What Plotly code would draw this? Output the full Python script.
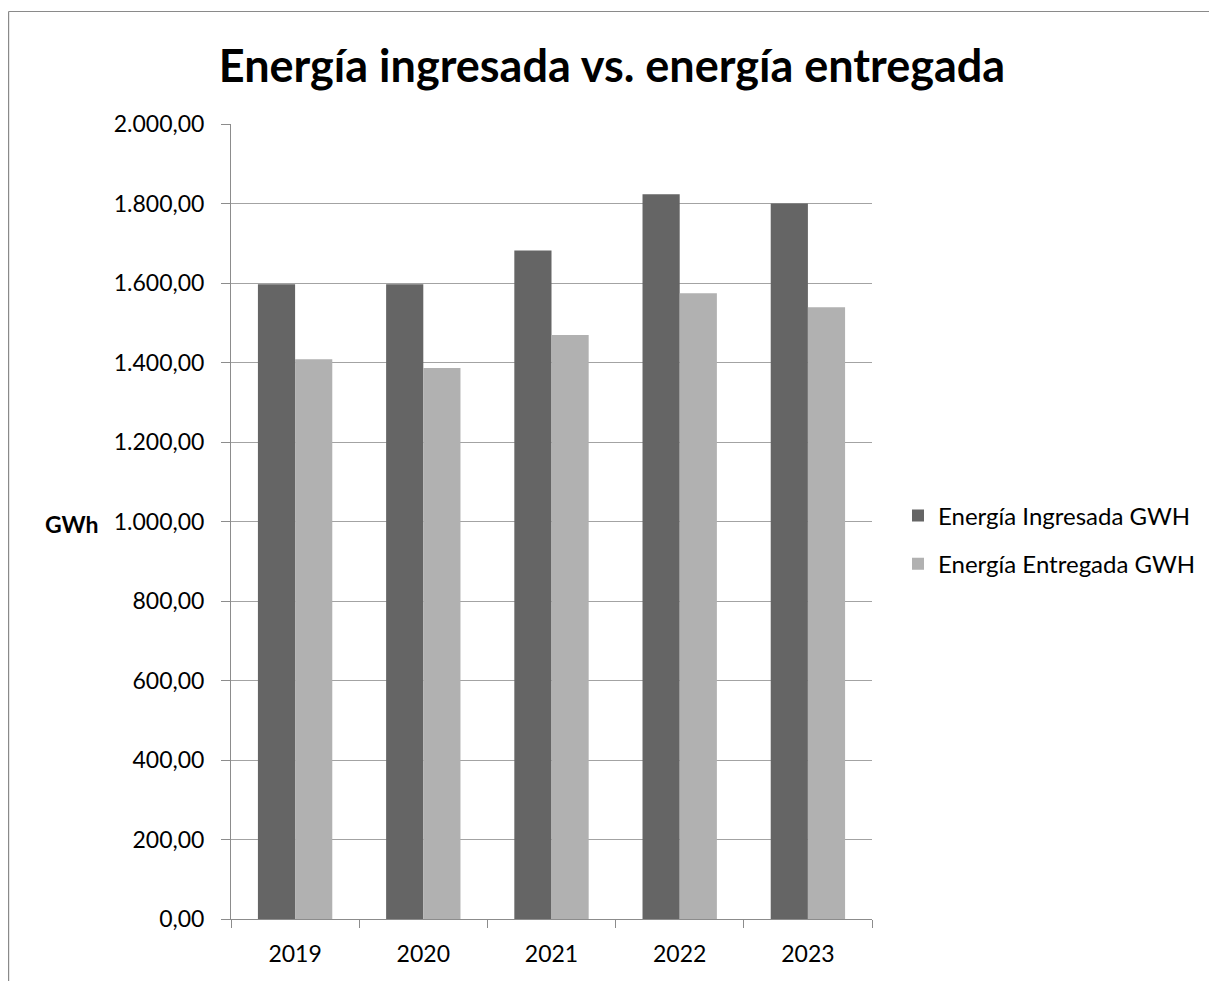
import plotly.graph_objects as go

years = ["2019", "2020", "2021", "2022", "2023"]
ingresada = [1597, 1597, 1682, 1823, 1800]
entregada = [1408, 1386, 1469, 1574, 1539]
series_names = ["Energía Ingresada GWH", "Energía Entregada GWH"]
title_text = "Energía ingresada vs. energía entregada"
y_title = "GWh"

FONT = "Lato"
OFF = 8  # page body margin

W, H = 1217 - OFF, 981 - OFF
L, T = 231 - OFF, 124 - OFF
R = W - (872 - OFF)
B = H - (919 - OFF)
pw = W - L - R
ph = H - T - B


def px_x(x_page):
    return (x_page - OFF - L) / pw


def px_y(y_page):
    return (H - B - (y_page - OFF)) / ph


fig = go.Figure()
fig.add_trace(go.Bar(x=years, y=ingresada, name=series_names[0],
                     marker=dict(color="#656565", line=dict(width=0)),
                     legendgroup="a"))
fig.add_trace(go.Bar(x=years, y=entregada, name=series_names[1],
                     marker=dict(color="#b1b1b1", line=dict(width=0)),
                     legendgroup="b"))

fig.update_layout(
    width=W, height=H,
    margin=dict(l=L, r=R, t=T, b=B, pad=0),
    paper_bgcolor="white", plot_bgcolor="white",
    separators=",.",
    barmode="group", bargap=0.42, bargroupgap=0,
    font=dict(family=FONT, size=23, color="black"),
    title=dict(text="<b>" + title_text + "</b>", x=px_x(612), xref="paper",
               xanchor="center", y=1 - (66 - OFF) / H, yanchor="middle",
               font=dict(family=FONT, size=45, color="black")),
    legend=dict(x=px_x(898), xref="paper", y=px_y(540), yanchor="middle",
                xanchor="left", font=dict(family=FONT, size=24),
                tracegroupgap=14, bgcolor="rgba(0,0,0,0)"),
    xaxis=dict(type="category", showline=True, linecolor="#8c8c8c", linewidth=1,
               ticks="outside", tickson="boundaries", ticklen=8, tickcolor="#8c8c8c",
               showgrid=False, tickfont=dict(family=FONT, size=23), ticklabelstandoff=14),
    yaxis=dict(range=[0, 2000], dtick=200, tickformat=",.2f", showline=True,
               linecolor="#8c8c8c", linewidth=1, ticks="outside", ticklen=9,
               tickcolor="#8c8c8c", showgrid=True, gridcolor="#a3a3a3", gridwidth=1,
               zeroline=False, tickfont=dict(family=FONT, size=23), ticklabelstandoff=12),
    showlegend=True,
)

fig.add_annotation(text="<b>" + y_title + "</b>", xref="paper", yref="paper",
                   x=px_x(71.5), y=px_y(524), showarrow=False, xanchor="center",
                   yanchor="middle", font=dict(family=FONT, size=23, color="black"))

border = "#8a8a8a"
for x0, y0, x1, y1 in [(8.6, 11.5, 1217, 11.5), (8.6, 11.5, 8.6, 990)]:
    fig.add_shape(type="line", xref="paper", yref="paper",
                  x0=px_x(x0), y0=px_y(y0), x1=px_x(x1), y1=px_y(y1),
                  line=dict(color=border, width=1.2))

fig.write_html("out.html")
